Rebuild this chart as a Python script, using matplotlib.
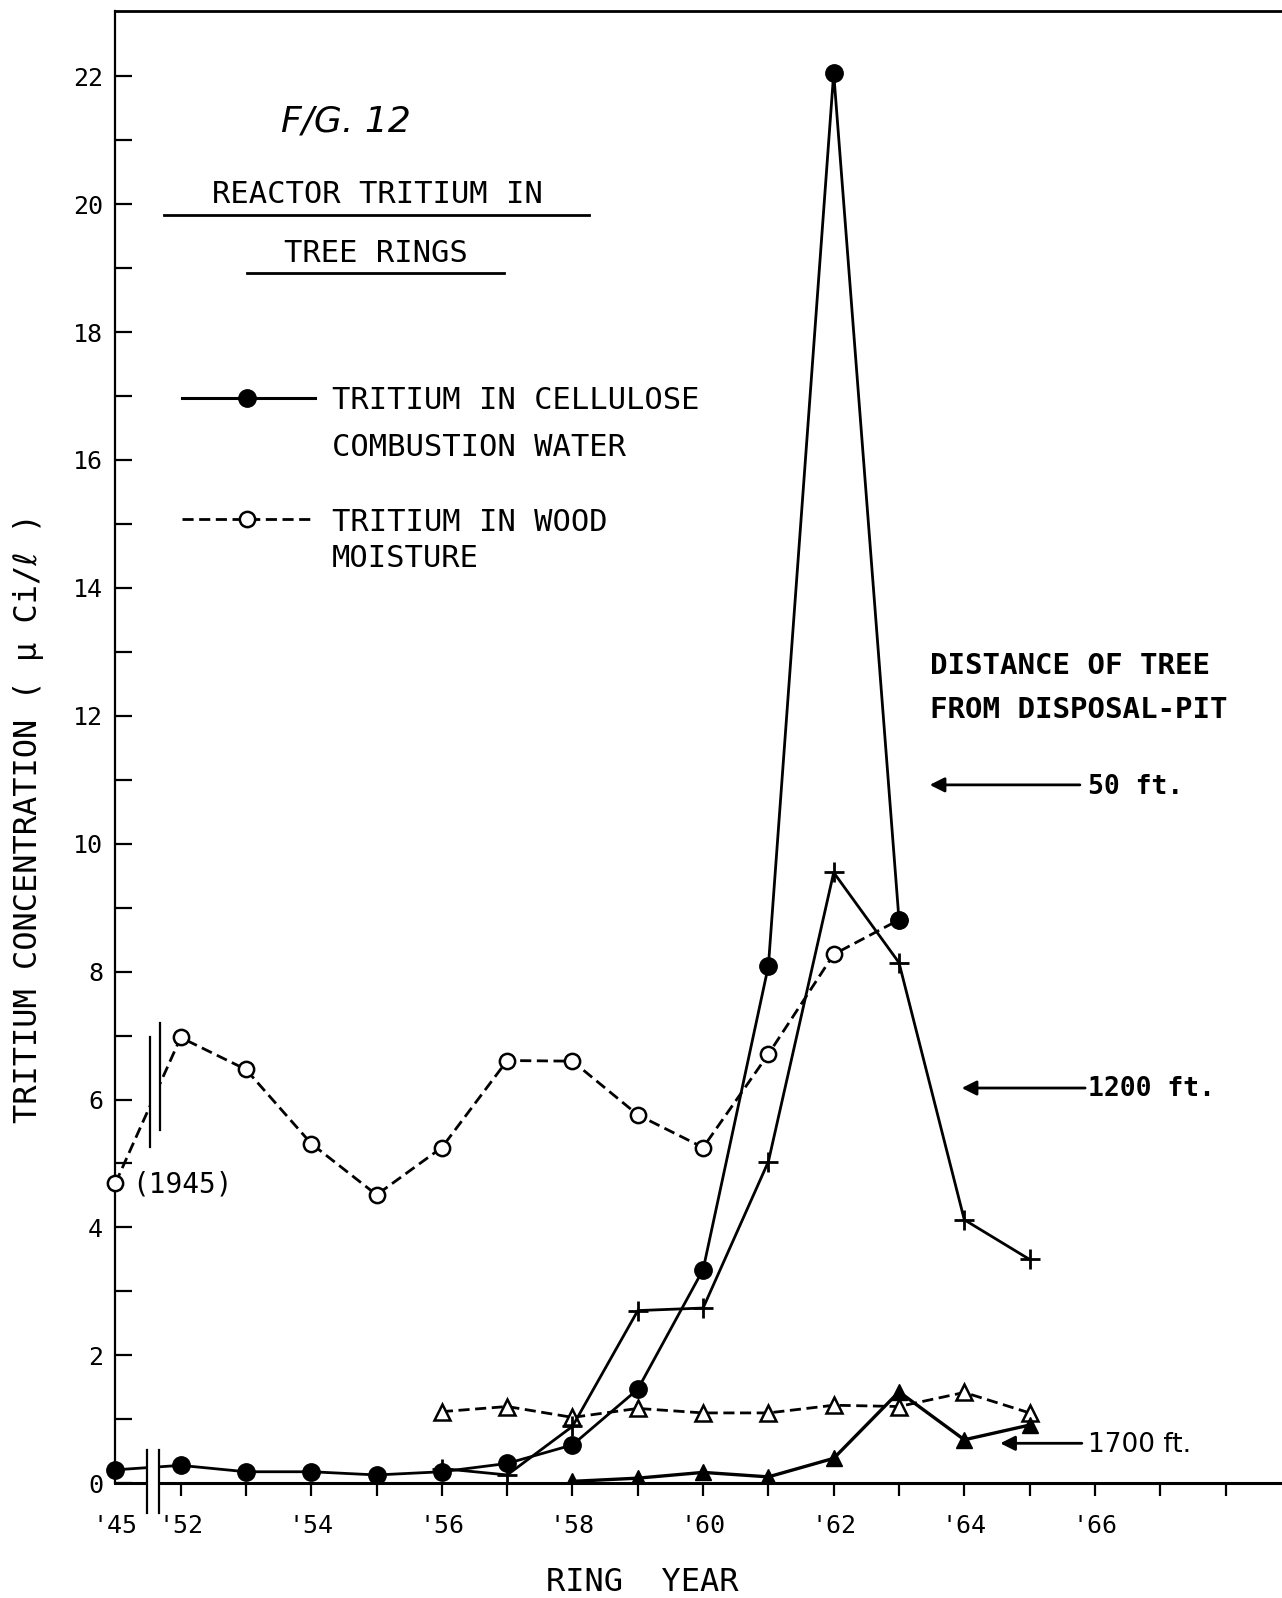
import matplotlib
matplotlib.use("Agg")
import matplotlib.pyplot as plt
from matplotlib.patches import Rectangle
from matplotlib.lines import Line2D
import numpy as np

# ring years; '45 sits in the slot just left of '52, across the axis break
years_50 = [45, 52, 53, 54, 55, 56, 57, 58, 59, 60, 61, 62, 63]
cellulose_50 = [0.21, 0.28, 0.18, 0.18, 0.13, 0.18, 0.31, 0.60, 1.47, 3.34, 8.09, 22.05, 8.81]
moisture_50 = [4.69, 6.97, 6.47, 5.31, 4.51, 5.25, 6.61, 6.60, 5.76, 5.25, 6.71, 8.27, 8.81]

years_1200 = [56, 57, 58, 59, 60, 61, 62, 63, 64, 65]
cellulose_1200 = [0.23, 0.13, 0.89, 2.70, 2.74, 5.03, 9.55, 8.14, 4.12, 3.50]

years_1700_moist = [56, 57, 58, 59, 60, 61, 62, 63, 64, 65]
moisture_1700 = [1.12, 1.20, 1.03, 1.17, 1.10, 1.10, 1.22, 1.20, 1.42, 1.10]
years_1700_cell = [58, 59, 60, 61, 62, 63, 64, 65]
cellulose_1700 = [0.03, 0.08, 0.17, 0.10, 0.39, 1.43, 0.68, 0.91]

xtick_years = [45, 52, 54, 56, 58, 60, 62, 64, 66, 68]
xtick_text = ["'45", "'52", "'54", "'56", "'58", "'60", "'62", "'64", "'66", ""]
yticks = list(range(0, 23, 2))


def xpos(years):
    years = np.asarray(years, dtype=float)
    return np.where(years == 45, 51.0, years)


plt.rcParams['font.family'] = ['DejaVu Sans Mono', 'DejaVu Sans']

fig = plt.figure(figsize=(12.82, 15.98), dpi=100)
ax = fig.add_axes([0.090, 0.0718, 0.910, 0.9213])
ax.set_xlim(51, 68.865)
ax.set_ylim(0, 23.02)

dash = (0, (4, 2))
ax.plot(xpos(years_1700_moist), moisture_1700, color='k', lw=2.0, ls=dash,
        marker='^', ms=12, mfc='white', mec='k', mew=1.8, zorder=3)
ax.plot(xpos(years_1700_cell), cellulose_1700, color='k', lw=2.4,
        marker='^', ms=12, mfc='k', mec='k', zorder=4)
ax.plot(xpos(years_1200), cellulose_1200, color='k', lw=2.0,
        marker='+', ms=14, mew=2, zorder=4)
ax.plot(xpos(years_50), moisture_50, color='k', lw=2.0, ls=dash, clip_on=False,
        marker='o', ms=11, mfc='white', mec='k', mew=1.8, zorder=5)
ax.plot(xpos(years_50), cellulose_50, color='k', lw=2.0, clip_on=False,
        marker='o', ms=12.5, mfc='k', mec='k', zorder=6)

# axis break between 1945 and 1952
ax.add_patch(Rectangle((51.53, 5.45), 0.14, 1.5, facecolor='white',
                       edgecolor='none', zorder=7))
ax.add_patch(Rectangle((51.50, -0.12), 0.16, 0.55, facecolor='white',
                       edgecolor='none', zorder=7, clip_on=False))
for bx, y0, y1 in [(51.53, 5.26, 6.97), (51.68, 5.52, 7.20),
                   (51.49, -0.47, 0.52), (51.67, -0.47, 0.52)]:
    ax.plot([bx, bx], [y0, y1], color='k', lw=1.6, zorder=8, clip_on=False)

# spines and ticks
ax.spines['right'].set_visible(False)
ax.spines['left'].set_linewidth(1.6)
ax.spines['bottom'].set_linewidth(2.2)
ax.spines['top'].set_linewidth(2.0)

ax.set_yticks(yticks)
ax.set_yticks(range(1, 22, 2), minor=True)
ax.set_xticks(list(xpos(xtick_years)))
ax.set_xticklabels(xtick_text)
ax.set_xticks(range(53, 68, 2), minor=True)
ax.xaxis.get_major_ticks()[0].tick1line.set_visible(False)
ax.tick_params(axis='y', which='both', direction='in', length=12, width=1.6,
               pad=9, labelsize=18)
ax.tick_params(axis='x', which='both', direction='out', length=9, width=1.6,
               pad=13, labelsize=18)

ax.set_ylabel('TRITIUM CONCENTRATION ( \u03bc Ci/\u2113 )', fontsize=23, va='center')
ax.yaxis.set_label_coords(-0.0745, 0.452)
ax.set_xlabel('RING  YEAR', fontsize=23, va='center')
ax.xaxis.set_label_coords(0.4514, -0.0674)

# title block
ax.text(54.53, 21.13, 'F/G. 12', fontsize=26, style='italic', family='DejaVu Sans',
        ha='center', va='baseline')
ax.text(55.01, 20.02, 'REACTOR TRITIUM IN', fontsize=22, ha='center', va='baseline')
ax.plot([51.75, 58.25], [19.83, 19.83], color='k', lw=2)
ax.text(54.99, 19.10, 'TREE RINGS', fontsize=22, ha='center', va='baseline')
ax.plot([53.02, 56.95], [18.93, 18.93], color='k', lw=2)

# key
ax.add_line(Line2D([52.02, 54.06], [16.97, 16.97], color='k', lw=2.2))
ax.add_line(Line2D([53.02], [16.97], marker='o', ms=12.5, color='k'))
ax.text(54.31, 16.80, 'TRITIUM IN CELLULOSE', fontsize=22, va='baseline')
ax.text(54.31, 16.07, 'COMBUSTION WATER', fontsize=22, va='baseline')
ax.add_line(Line2D([52.02, 54.06], [15.07, 15.07], color='k', lw=2.0, ls=dash))
ax.add_line(Line2D([53.02], [15.07], marker='o', ms=11, mfc='white', mec='k', mew=1.8))
ax.text(54.31, 14.89, 'TRITIUM IN WOOD', fontsize=22, va='baseline')
ax.text(54.31, 14.33, 'MOISTURE', fontsize=22, va='baseline')

ax.text(51.26, 4.54, '(1945)', fontsize=20, va='baseline')

# distance of each tree from the pit
ax.text(63.47, 12.65, 'DISTANCE OF TREE', fontsize=21, weight='bold', va='baseline')
ax.text(63.47, 11.96, 'FROM DISPOSAL-PIT', fontsize=21, weight='bold', va='baseline')

arrows = [((63.47, 10.92), (65.77, 10.92), '50 ft.', 10.78, 'bold', 'DejaVu Sans Mono'),
          ((63.96, 6.18), (65.85, 6.18), '1200 ft.', 6.05, 'bold', 'DejaVu Sans Mono'),
          ((64.55, 0.625), (65.80, 0.625), '1700 ft.', 0.49, 'normal', 'DejaVu Sans')]
for tip, tail, label, base, wt, fam in arrows:
    ax.annotate('', xy=tip, xytext=tail,
                arrowprops=dict(arrowstyle='-|>', color='k', lw=2, mutation_scale=22,
                                shrinkA=0, shrinkB=0))
    ax.text(65.90, base, label, fontsize=19, weight=wt, family=fam, va='baseline')

fig.savefig('out.png', dpi=100)
